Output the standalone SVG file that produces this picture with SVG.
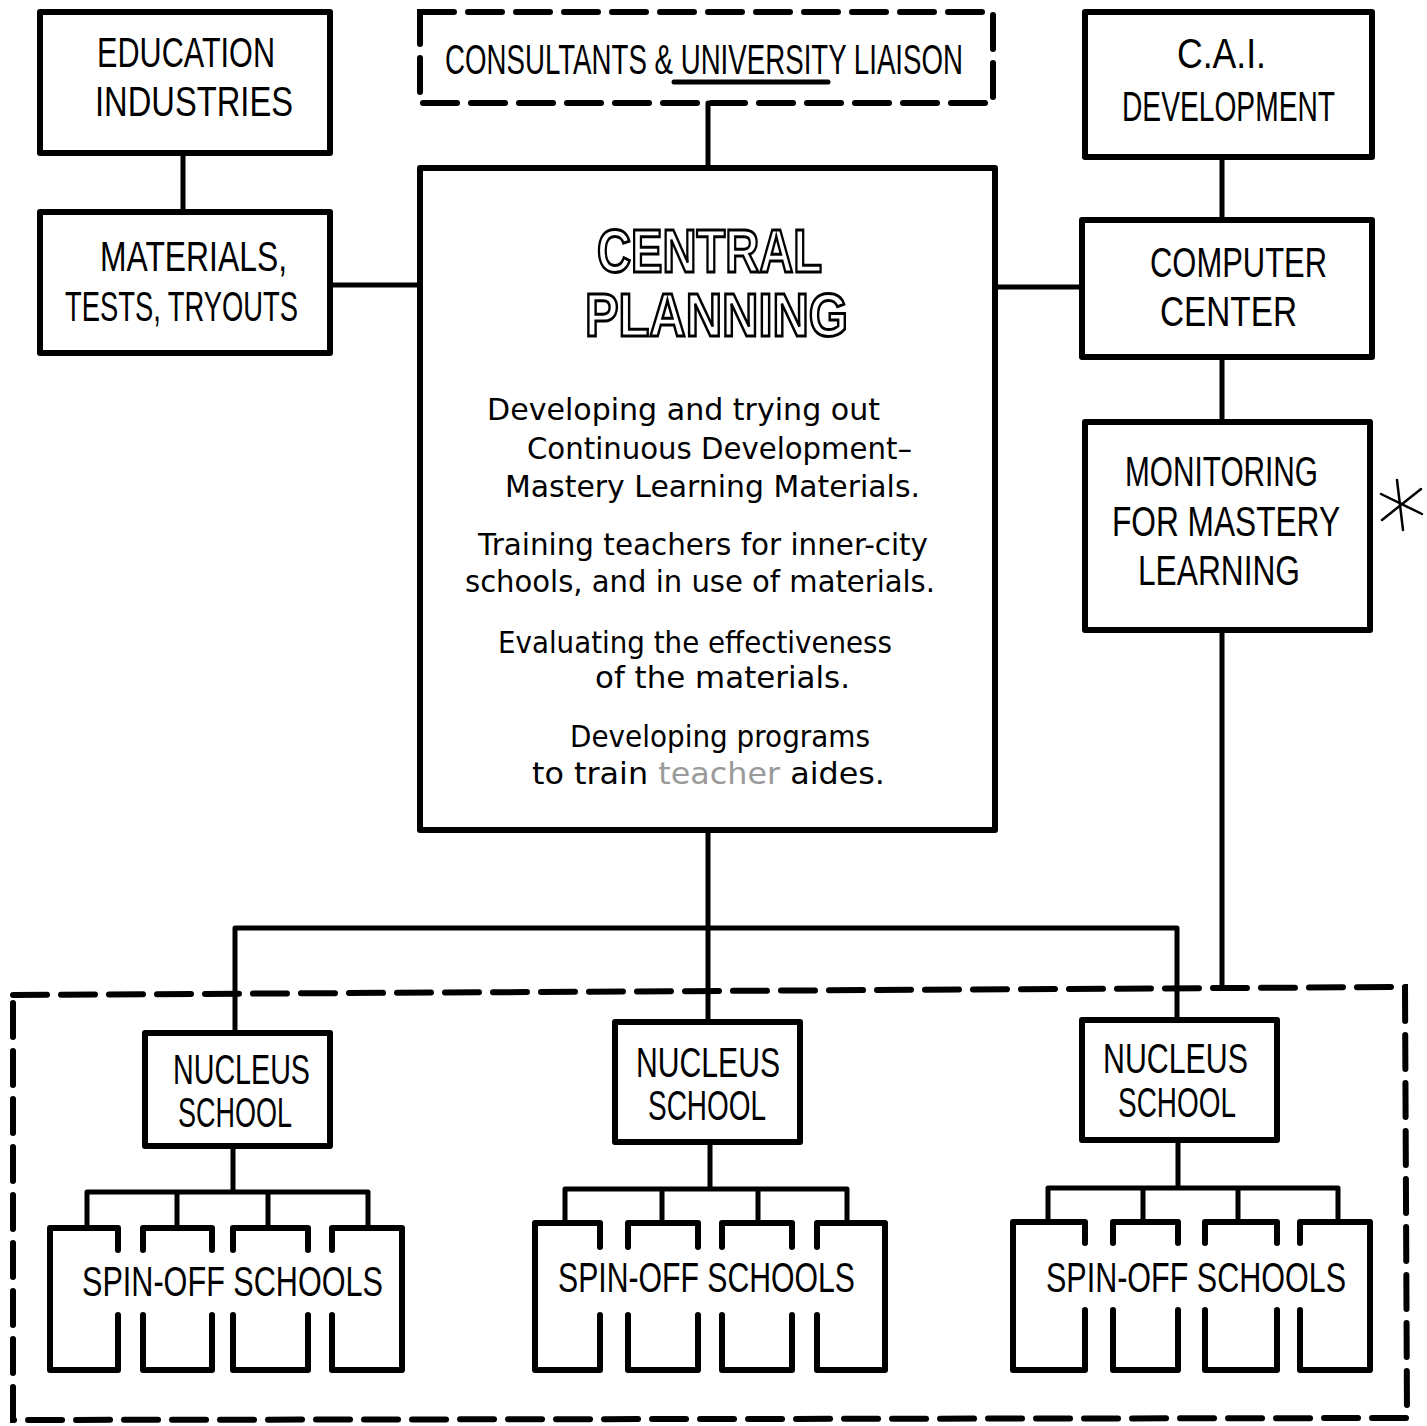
<svg xmlns="http://www.w3.org/2000/svg" width="1427" height="1426" viewBox="0 0 1427 1426">
<style>
.box{fill:#fff;stroke:#000;stroke-width:6;stroke-linejoin:round}
.dash{fill:none;stroke:#000;stroke-width:6;stroke-dasharray:34 14;stroke-linecap:round}
.ln{fill:none;stroke:#000;stroke-width:5;stroke-linecap:round;stroke-linejoin:round}
.sp{fill:none;stroke:#000;stroke-width:6;stroke-linecap:round;stroke-linejoin:round}
.cap{font-family:"Liberation Sans",Arial,sans-serif;font-size:42px;fill:#000}
.big{font-family:"Liberation Sans",Arial,sans-serif;font-size:62px;font-weight:bold;fill:#fff;stroke:#000;stroke-width:3}
.body{font-family:"DejaVu Sans","Liberation Sans",sans-serif;font-size:30px;fill:#000}
</style>
<rect width="1427" height="1426" fill="#fff"/>

<g id="connectors">
<path class="ln" d="M183,153 V212"/>
<path class="ln" d="M330,285 H420"/>
<path class="ln" d="M708,103 V168"/>
<path class="ln" d="M1222,157 V220"/>
<path class="ln" d="M995,287 H1082"/>
<path class="ln" d="M1222,357 V422"/>
<path class="ln" d="M1222,630 V987"/>
<path class="ln" d="M708,830 V1022"/>
<path class="ln" d="M235,1033 V928 H1177 V1020"/>
<path class="ln" d="M233,1146 V1192 M87,1228 V1192 H368 V1228 M177,1192 V1228 M268,1192 V1228"/>
<path class="ln" d="M710,1142 V1189 M565,1223 V1189 H847 V1223 M662,1189 V1223 M758,1189 V1223"/>
<path class="ln" d="M1178,1140 V1188 M1048,1222 V1188 H1338 V1222 M1143,1188 V1222 M1238,1188 V1222"/>
</g>

<g id="nucleus-area">
<path class="dash" d="M13,995 L1405,987 L1407,1418 L13,1420 Z"/>
</g>

<g id="education-industries">
<rect class="box" x="40" y="12" width="290" height="141"/>
<text class="cap" x="97" y="67" textLength="178" lengthAdjust="spacingAndGlyphs">EDUCATION</text>
<text class="cap" x="95" y="116" textLength="198" lengthAdjust="spacingAndGlyphs">INDUSTRIES</text>
</g>

<g id="materials">
<rect class="box" x="40" y="212" width="290" height="141"/>
<text class="cap" x="100" y="271" textLength="187" lengthAdjust="spacingAndGlyphs">MATERIALS,</text>
<text class="cap" x="65" y="321" textLength="233" lengthAdjust="spacingAndGlyphs">TESTS, TRYOUTS</text>
</g>

<g id="consultants">
<rect class="dash" x="420" y="12" width="573" height="91"/>
<text class="cap" x="445" y="74" font-size="40" textLength="518" lengthAdjust="spacingAndGlyphs">CONSULTANTS &amp; UNIVERSITY LIAISON</text>
<path class="ln" d="M674,82 H828" stroke-width="3"/>
</g>

<g id="central-planning">
<rect class="box" x="420" y="168" width="575" height="662"/>
<text class="big" x="597" y="272" textLength="225" lengthAdjust="spacingAndGlyphs">CENTRAL</text>
<text class="big" x="585" y="336" textLength="263" lengthAdjust="spacingAndGlyphs">PLANNING</text>
<text class="body" x="487" y="420" textLength="393" lengthAdjust="spacingAndGlyphs">Developing and trying out</text>
<text class="body" x="527" y="459" textLength="385" lengthAdjust="spacingAndGlyphs">Continuous Development–</text>
<text class="body" x="505" y="497" textLength="415" lengthAdjust="spacingAndGlyphs">Mastery Learning Materials.</text>
<text class="body" x="478" y="555" textLength="450" lengthAdjust="spacingAndGlyphs">Training teachers for inner-city</text>
<text class="body" x="465" y="592" textLength="470" lengthAdjust="spacingAndGlyphs">schools, and in use of materials.</text>
<text class="body" x="498" y="653" textLength="394" lengthAdjust="spacingAndGlyphs">Evaluating the effectiveness</text>
<text class="body" x="595" y="688" textLength="255" lengthAdjust="spacingAndGlyphs">of the materials.</text>
<text class="body" x="570" y="747" textLength="300" lengthAdjust="spacingAndGlyphs">Developing programs</text>
<text class="body" x="532" y="784" textLength="353" lengthAdjust="spacingAndGlyphs">to train <tspan fill="#9a9a9a">teacher</tspan> aides.</text>
</g>

<g id="cai-development">
<rect class="box" x="1085" y="12" width="287" height="145"/>
<text class="cap" x="1177" y="68" font-size="40" textLength="89" lengthAdjust="spacingAndGlyphs">C.A.I.</text>
<text class="cap" x="1122" y="121" textLength="213" lengthAdjust="spacingAndGlyphs">DEVELOPMENT</text>
</g>

<g id="computer-center">
<rect class="box" x="1082" y="220" width="290" height="137"/>
<text class="cap" x="1150" y="277" textLength="177" lengthAdjust="spacingAndGlyphs">COMPUTER</text>
<text class="cap" x="1160" y="326" textLength="137" lengthAdjust="spacingAndGlyphs">CENTER</text>
</g>

<g id="monitoring">
<rect class="box" x="1085" y="422" width="285" height="208"/>
<text class="cap" x="1125" y="486" textLength="193" lengthAdjust="spacingAndGlyphs">MONITORING</text>
<text class="cap" x="1112" y="536" textLength="228" lengthAdjust="spacingAndGlyphs">FOR  MASTERY</text>
<text class="cap" x="1138" y="585" textLength="162" lengthAdjust="spacingAndGlyphs">LEARNING</text>
</g>

<g id="asterisk">
<path fill="none" stroke="#000" stroke-width="2.5" stroke-linecap="round" d="M1397,480 L1403,530 M1381,494 L1422,514 M1382,520 L1421,489"/>
</g>

<g id="nucleus-left">
<rect class="box" x="145" y="1033" width="185" height="113"/>
<text class="cap" x="173" y="1084" font-size="38" textLength="137" lengthAdjust="spacingAndGlyphs">NUCLEUS</text>
<text class="cap" x="178" y="1127" font-size="38" textLength="114" lengthAdjust="spacingAndGlyphs">SCHOOL</text>
</g>

<g id="nucleus-middle">
<rect class="box" x="615" y="1022" width="185" height="120"/>
<text class="cap" x="636" y="1077" font-size="38" textLength="144" lengthAdjust="spacingAndGlyphs">NUCLEUS</text>
<text class="cap" x="648" y="1120" font-size="38" textLength="118" lengthAdjust="spacingAndGlyphs">SCHOOL</text>
</g>

<g id="nucleus-right">
<rect class="box" x="1082" y="1020" width="195" height="120"/>
<text class="cap" x="1103" y="1073" font-size="38" textLength="145" lengthAdjust="spacingAndGlyphs">NUCLEUS</text>
<text class="cap" x="1118" y="1117" font-size="38" textLength="118" lengthAdjust="spacingAndGlyphs">SCHOOL</text>
</g>

<g id="spinoff-left">
<path class="sp" d="M118,1250 V1228 H50 V1370 H118 V1315 M143,1250 V1228 H212 V1250 M143,1315 V1370 H212 V1315 M233,1250 V1228 H308 V1250 M233,1315 V1370 H308 V1315 M332,1250 V1228 H402 V1370 H332 V1315"/>
<text class="cap" x="82" y="1296" font-size="40" textLength="301" lengthAdjust="spacingAndGlyphs">SPIN-OFF  SCHOOLS</text>
</g>

<g id="spinoff-middle">
<path class="sp" d="M600,1247 V1223 H535 V1370 H600 V1315 M628,1247 V1223 H698 V1247 M628,1315 V1370 H698 V1315 M722,1247 V1223 H792 V1247 M722,1315 V1370 H792 V1315 M817,1247 V1223 H885 V1370 H817 V1315"/>
<text class="cap" x="558" y="1292" font-size="40" textLength="297" lengthAdjust="spacingAndGlyphs">SPIN-OFF  SCHOOLS</text>
</g>

<g id="spinoff-right">
<path class="sp" d="M1085,1243 V1222 H1013 V1370 H1085 V1310 M1113,1243 V1222 H1178 V1243 M1113,1310 V1370 H1178 V1310 M1205,1243 V1222 H1277 V1243 M1205,1310 V1370 H1277 V1310 M1300,1243 V1222 H1370 V1370 H1300 V1310"/>
<text class="cap" x="1046" y="1292" font-size="40" textLength="300" lengthAdjust="spacingAndGlyphs">SPIN-OFF SCHOOLS</text>
</g>
</svg>
